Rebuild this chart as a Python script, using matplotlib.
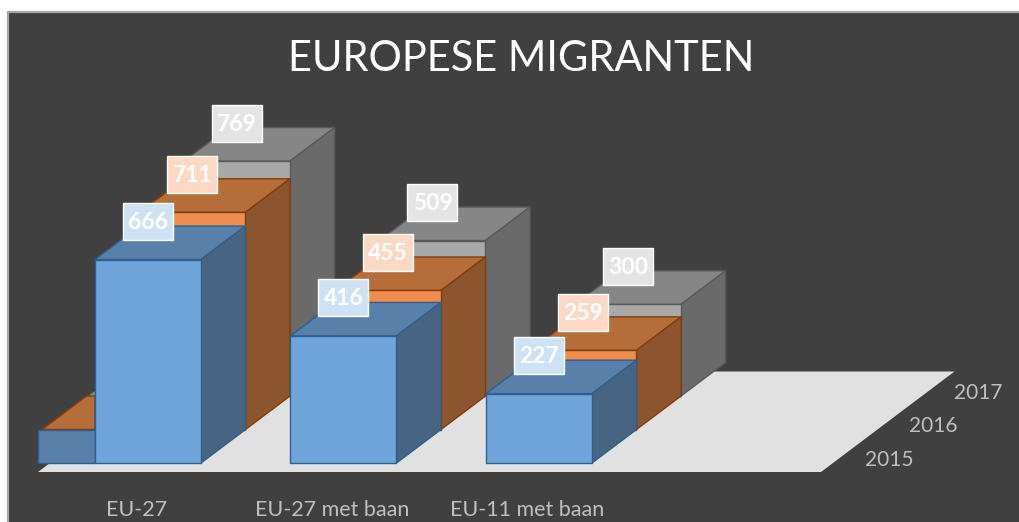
import matplotlib
matplotlib.use("Agg")
import matplotlib.pyplot as plt
from matplotlib.patches import Polygon, Rectangle

# chart values
categories = ["EU-27", "EU-27 met baan", "EU-11 met baan"]
years = ["2015", "2016", "2017"]
values_2015 = [666, 416, 227]
values_2016 = [711, 455, 259]
values_2017 = [769, 509, 300]
series = [values_2015, values_2016, values_2017]

# colours per year: front, top, side, edge, label box
colors = [
    ("#6FA5DA", "#5880A8", "#476582", "#2F5F8F", "#CFE2F3"),
    ("#F08D4E", "#B56D3A", "#8C552E", "#843C0C", "#FBD9C5"),
    ("#A9A9A9", "#868686", "#6A6A6A", "#5A5A5A", "#E4E4E4"),
]
bg = "#404040"
txt = "#BFBFBF"

# oblique projection, everything in picture pixels
x0, base_y = 95, 463
bar_w, cat_step = 106, 195.5
dx, dy = 44.5, -33.5
px_per_unit = 0.3055
floor_y, floor_left, floor_w = 472, 38, 783

plt.rcParams["font.family"] = ["Lato", "DejaVu Sans"]
fig = plt.figure(figsize=(10.19, 5.22), dpi=100, facecolor="white")
ax = fig.add_axes([0, 0, 1, 1])
ax.set_xlim(0, 1019)
ax.set_ylim(522, 0)
ax.axis("off")

# chart area with its border, white margin above and left
ax.add_patch(Rectangle((8.5, 11.5), 1019, 522, fc=bg, ec="#A6A6A6", lw=1.6))

# floor
ax.add_patch(Polygon([(floor_left, floor_y), (floor_left + floor_w, floor_y),
                      (floor_left + floor_w + 3 * dx, floor_y + 3 * dy),
                      (floor_left + 3 * dx, floor_y + 3 * dy)], fc="#E1E1E1", ec="none"))

def draw_bar(left, bottom, h, c):
    right, top = left + bar_w, bottom - h
    ax.add_patch(Polygon([(left, top), (right, top), (right + dx, top + dy), (left + dx, top + dy)],
                         fc=c[1], ec=c[3], lw=1))
    ax.add_patch(Polygon([(right, top), (right + dx, top + dy), (right + dx, bottom + dy), (right, bottom)],
                         fc=c[2], ec=c[3], lw=1))
    ax.add_patch(Rectangle((left, top), bar_w, h, fc=c[0], ec=c[3], lw=1))

# leftover slab left of the first bar, behind the bars
back_y = base_y + 2 * dy
ax.add_patch(Polygon([(x0 - 7, back_y), (x0, back_y - 5), (x0, back_y)], fc=colors[2][1], ec="none"))
ax.add_patch(Polygon([(floor_left + 4, base_y + dy), (floor_left + 4 + dx, back_y),
                      (x0, back_y), (x0, base_y + dy)], fc=colors[1][1], ec=colors[1][3], lw=1))
ax.add_patch(Rectangle((floor_left, base_y + dy), x0 - floor_left, -dy, fc=colors[0][1], ec=colors[0][3], lw=1))

# back row first
for s in [2, 1, 0]:
    for i, v in enumerate(series[s]):
        draw_bar(x0 + i * cat_step + s * dx, base_y + s * dy, v * px_per_unit, colors[s])

# data labels
for s in range(3):
    for i, v in enumerate(series[s]):
        cx = x0 + i * cat_step + s * dx + bar_w / 2
        cy = base_y + s * dy - v * px_per_unit - 38
        ax.add_patch(Rectangle((cx - 25, cy - 18.5), 50, 37, fc=colors[s][4], ec="white", lw=1, zorder=5))
        ax.text(cx, cy + 1, str(v), color="white", fontsize=16.5, fontweight="bold", ha="center", va="center", zorder=6)

ax.text(521, 59, "EUROPESE MIGRANTEN", color="white", fontsize=30, ha="center", va="center")

for i, name in enumerate(categories):
    ax.text(135.5 + i * cat_step + 1, 510.5, name, color=txt, fontsize=15.5, ha="center", va="center")
for s, year in enumerate(years):
    ax.text(889 + s * dx, 460 + s * dy, year, color=txt, fontsize=15, ha="center", va="center")

fig.savefig("out.png", dpi=100, facecolor="white")
